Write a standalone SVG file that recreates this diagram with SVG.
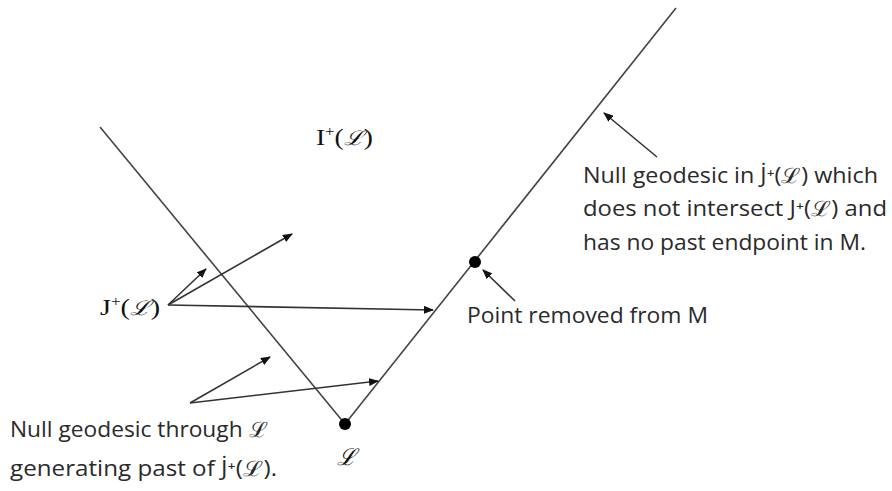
<svg xmlns="http://www.w3.org/2000/svg" width="892" height="491" viewBox="0 0 892 491">
<style>
.ln{stroke:#444;stroke-width:1.6;fill:none}
.ar{stroke:#333;stroke-width:1.6;fill:none;marker-end:url(#ah)}
.sans{font-family:"Open Sans","Liberation Sans",sans-serif;font-size:21px;fill:#2a2a2a}
.ser{font-family:"Liberation Serif","DejaVu Serif",serif;font-size:23px;fill:#111}
.sc{font-family:"DejaVu Serif",serif;font-style:italic}
</style>
<defs>
<marker id="ah" markerWidth="10" markerHeight="8" refX="9" refY="4" orient="auto" markerUnits="userSpaceOnUse">
<path d="M0,0 L10,4 L0,8 Z" fill="#111"/>
</marker>
</defs>
<g id="cone">
<line class="ln" x1="100" y1="127" x2="345" y2="424"/>
<line class="ln" x1="345" y1="424" x2="676" y2="8"/>
</g>
<g id="pointL"><circle cx="345" cy="424" r="6" fill="#000"/>
<text class="ser sc" x="346" y="465" text-anchor="middle" font-size="23">ℒ</text></g>
<g id="removed"><circle cx="475" cy="262" r="6" fill="#000"/></g>
<g id="labelI"><text class="ser" x="316" y="145" textLength="57" lengthAdjust="spacingAndGlyphs">I<tspan font-size="14" dy="-9">+</tspan><tspan dy="9">(</tspan><tspan class="sc" font-size="20">ℒ</tspan>)</text></g>
<g id="labelJ"><text class="ser" x="100" y="315" textLength="60" lengthAdjust="spacingAndGlyphs">J<tspan font-size="14" dy="-9">+</tspan><tspan dy="9">(</tspan><tspan class="sc" font-size="20">ℒ</tspan>)</text></g>
<g id="labelNullTop">
<text class="sans" x="583" y="183" textLength="295" lengthAdjust="spacingAndGlyphs">Null geodesic in J̇⁺(ℒ) which</text>
<text class="sans" x="583" y="216" textLength="304" lengthAdjust="spacingAndGlyphs">does not intersect  J⁺(ℒ) and</text>
<text class="sans" x="583" y="250" textLength="283" lengthAdjust="spacingAndGlyphs">has no past endpoint in M.</text>
</g>
<g id="labelPoint"><text class="sans" x="467" y="323" textLength="241" lengthAdjust="spacingAndGlyphs">Point removed from M</text></g>
<g id="labelNullBottom">
<text class="sans" x="10" y="437" textLength="258" lengthAdjust="spacingAndGlyphs">Null geodesic through ℒ</text>
<text class="sans" x="10" y="476" textLength="267" lengthAdjust="spacingAndGlyphs">generating past of J̇⁺(ℒ).</text>
</g>
<g id="connectors">
<line class="ar" x1="168" y1="305" x2="206" y2="269"/>
<line class="ar" x1="168" y1="305" x2="292" y2="234"/>
<line class="ar" x1="168" y1="305" x2="433" y2="310"/>
<line class="ar" x1="190" y1="403" x2="270" y2="357"/>
<line class="ar" x1="190" y1="403" x2="378" y2="381"/>
<line class="ar" x1="657" y1="157" x2="604" y2="113"/>
<line class="ar" x1="515" y1="301" x2="483" y2="270"/>
</g>
</svg>
